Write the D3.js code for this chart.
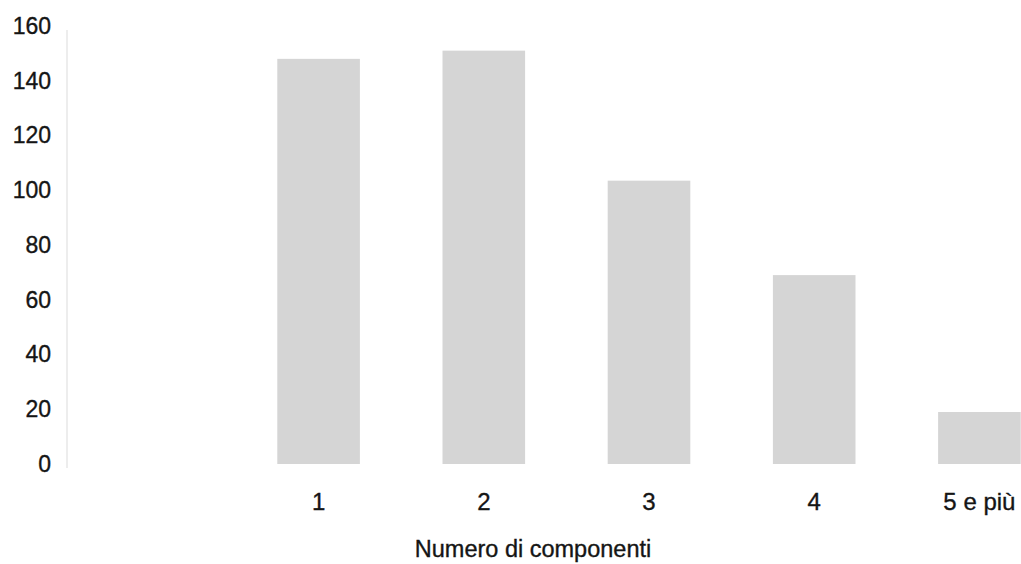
<!DOCTYPE html>
<html>
<head>
<meta charset="utf-8">
<script src="https://cdn.jsdelivr.net/npm/d3@7/dist/d3.min.js"></script>
<style>
  html, body { margin: 0; padding: 0; background: #fff; }
  svg { display: block; }
  text { font-family: "Liberation Sans", Arial, Helvetica, sans-serif; fill: #151515; stroke: #151515; stroke-width: 0.35px; }
</style>
</head>
<body>
<svg id="chart" width="1021" height="564"></svg>
<script>
const categories = ["1", "2", "3", "4", "5 e più"];
const values = [148, 151, 103.5, 69, 19];
const yTicks = [0, 20, 40, 60, 80, 100, 120, 140, 160];
const xTitle = "Numero di componenti";

const W = 1021, H = 564;
const svg = d3.select("#chart");

const y = d3.scaleLinear().domain([0, 160]).range([464, 26]);
const x = d3.scaleBand()
  .domain(categories)
  .range([236, 1062])
  .paddingInner(0.5)
  .paddingOuter(0.25);

// faint y axis line
svg.append("line")
  .attr("x1", 67).attr("x2", 67)
  .attr("y1", y(160) + 4).attr("y2", y(0) + 4)
  .attr("stroke", "#ededed").attr("stroke-width", 2);

// bars
svg.append("g").selectAll("rect")
  .data(categories.map((c, i) => ({ c, v: values[i] })))
  .join("rect")
  .attr("x", d => x(d.c))
  .attr("width", x.bandwidth())
  .attr("y", d => y(d.v))
  .attr("height", d => y(0) - y(d.v))
  .attr("fill", "#d5d5d5");

// y axis labels
const yAxis = d3.axisLeft(y).tickValues(yTicks).tickSize(0).tickPadding(0);
const gy = svg.append("g").attr("transform", "translate(51,0)").call(yAxis);
gy.select(".domain").remove();
gy.selectAll("text").style("font-size", "23px").attr("fill", "#151515");

// x axis labels
const xAxis = d3.axisBottom(x).tickSize(0).tickPadding(0);
const gx = svg.append("g").attr("transform", "translate(0,493)").call(xAxis);
gx.select(".domain").remove();
gx.selectAll("text").style("font-size", "24px").attr("fill", "#151515");

// x title
svg.append("text")
  .attr("x", 533).attr("y", 557)
  .attr("text-anchor", "middle")
  .style("font-size", "23.5px")
  .text(xTitle);
</script>
</body>
</html>
